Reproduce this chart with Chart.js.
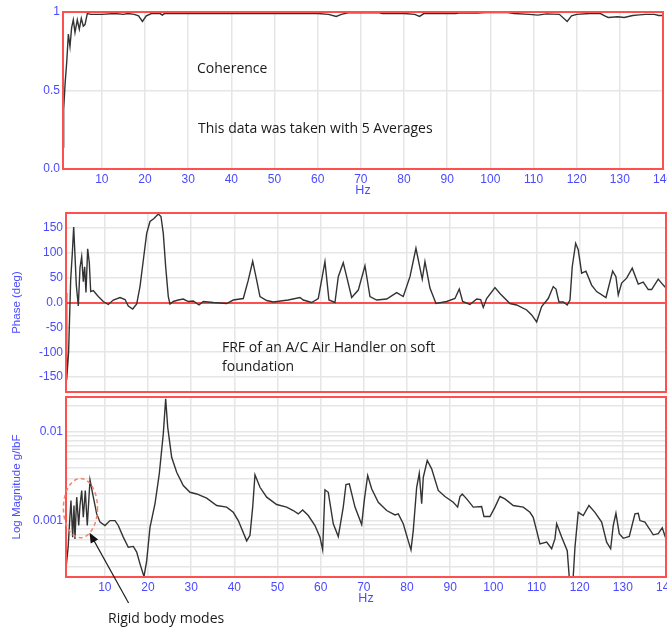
<!DOCTYPE html>
<html>
<head>
<meta charset="utf-8">
<script src="https://cdn.jsdelivr.net/npm/chart.js@4.4.0/dist/chart.umd.min.js"></script>
<style>
  html, body { margin: 0; padding: 0; background: #fff; }
  #wrap { position: relative; width: 667px; height: 627px; overflow: hidden; }
  .panel { position: absolute; left: 0; width: 667px; }
  .note { position: absolute; font-family: 'Open Sans', sans-serif; font-size: 14px; line-height: 19px; color: #1a1a1a; white-space: nowrap; }
</style>
</head>
<body>
<div id="wrap">
  <div class="panel" style="top:0;height:200px"><canvas id="coh"></canvas></div>
  <div class="panel" style="top:200px;height:197px"><canvas id="phase"></canvas></div>
  <div class="panel" style="top:385px;height:242px"><canvas id="mag"></canvas></div>
  <div class="note" style="left:197px;top:58px">Coherence</div>
  <div class="note" style="left:198px;top:118px">This data was taken with 5 Averages</div>
  <div class="note" style="left:222px;top:337px">FRF of an A/C Air Handler on soft<br>foundation</div>
  <div class="note" style="left:108px;top:608px">Rigid body modes</div>
</div>
<script>
// frequency axis (Hz)
const X_TICKS = [10, 20, 30, 40, 50, 60, 70, 80, 90, 100, 110, 120, 130, 140];

// coherence
const COH_TICKS = [0, 0.5, 1];
const COH_TICK_LABELS = ['0.0', '0.5', '1'];
const COH_HZ = [1.0, 1.15, 1.5, 1.86, 2.24, 2.62, 3.0, 3.39, 3.78, 4.31, 4.78, 5.24, 5.7, 6.1, 6.63, 7.5,
  10, 13, 15, 16, 17.5, 18.5, 19.4, 20.3, 21.5, 23.5, 24, 24.5, 40, 50, 60, 62.5, 64.3, 65.5, 67, 70,
  74, 75, 80, 82.5, 83.6, 84.6, 92, 93, 97, 99, 104, 105.5, 109, 111, 113, 116, 117.8, 118.8, 120,
  123, 125.5, 126.5, 127.3, 129.5, 131, 133, 134.5, 136, 138, 139, 140];
const COH_VAL = [0.14, 0.38, 0.55, 0.68, 0.86, 0.78, 0.90, 0.95, 0.87, 0.95, 0.89, 0.96, 0.91, 0.92, 0.99, 0.985,
  0.985, 0.99, 0.985, 0.99, 0.985, 0.975, 0.94, 0.975, 0.99, 0.99, 0.98, 0.99, 0.99, 0.99, 0.99, 0.985, 0.972, 0.985, 0.995, 0.995,
  0.997, 0.99, 0.99, 0.985, 0.972, 0.99, 0.99, 0.995, 0.993, 0.997, 0.997, 0.99, 0.985, 0.98, 0.988, 0.985, 0.94, 0.975, 0.985,
  0.99, 0.99, 0.975, 0.965, 0.97, 0.965, 0.978, 0.982, 0.985, 0.985, 0.978, 0.978];

// phase (deg)
const PHASE_TICKS = [-150, -100, -50, 0, 50, 100, 150];
const PHASE_TICK_LABELS = ['-150', '-100', '-50', '0.0', '50', '100', '150'];
const PHASE_HZ = [1.0, 1.15, 1.6, 2.08, 2.47, 2.78, 3.08, 3.39, 3.85, 4.24, 4.63, 5.01, 5.32, 5.63, 6.02, 6.4, 6.72,
  7.32, 8.48, 9.64, 10.8, 11.96, 13.51, 14.67, 15.43, 16.45, 17.38, 18.14, 18.91, 19.69, 20.46, 21.38, 22.38,
  23.0, 23.54, 24.09, 24.7, 25.09, 25.86, 27.01, 28.17, 29.33, 30.49, 31.81, 32.8, 35.12, 38.22, 39.75,
  42.07, 43.23, 44.25, 45.17, 45.94, 47.49, 49.02, 52.49, 55.2, 55.97, 57.91, 59.44, 60.99, 61.92, 63.31,
  64.08, 65.23, 66.02, 67.18, 68.71, 70.26, 71.42, 72.97, 75.29, 77.6, 79.13, 80.69, 82.07, 83.53, 84.16,
  85.32, 86.71, 89.19, 91.11, 92.11, 92.89, 94.58, 96.14, 97.06, 97.67, 98.45, 100.38, 101.53, 103.85,
  105.4, 107.72, 108.88, 110.03, 111.19, 112.72, 113.88, 114.51, 115.2, 116.2, 117.12, 117.75, 118.28,
  119.07, 119.67, 120.46, 121.45, 122.77, 123.93, 126.09, 127.64, 128.4, 128.94, 129.72, 130.88, 132.18,
  133.57, 134.73, 135.89, 136.67, 138.2, 139.36, 140];
const PHASE_DEG = [19, -156, -100, 45, 100, 152, 95, 35, -7, 70, 92, 42, 72, 20, 108, 80, 22,
  24, 12, 2, -4, 5, 10, 6, -7, -13, -3, 32, 85, 139, 163, 169, 178,
  173, 139, 72, 12, -3, 2, 5, 7, 2, 3, -5, 2, 0, -2, 5,
  8, 45, 83, 45, 12, 4, 1, 5, 10, 5, 0, 8, 82, 5, 0,
  52, 80, 52, 10, 25, 74, 12, 5, 7, 20, 12, 52, 109, 47, 82,
  29, -2, 2, 8, 27, 2, -4, 7, 6, -10, 8, 30, 18, -2,
  -5, -15, -25, -39, -8, 8, 32, 27, 1, 1, -5, 5, 72,
  119, 106, 59, 63, 35, 22, 10, 63, 52, 15, 39, 49, 69,
  37, 41, 26, 26, 47, 35, 29];

// log magnitude (g/lbF)
const MAG_TICKS = [3e-4, 4e-4, 5e-4, 6e-4, 7e-4, 8e-4, 9e-4, 1e-3, 2e-3, 3e-3, 4e-3, 5e-3, 6e-3, 7e-3, 8e-3, 9e-3, 1e-2, 2e-2];
const MAG_TICK_LABELS = ['', '', '', '', '', '', '', '0.001', '', '', '', '', '', '', '', '', '0.01', ''];
const MAG_HZ = [1.0, 1.5, 1.9, 2.15, 2.55, 2.85, 3.08, 3.48, 3.94, 4.24, 4.64, 5.01, 5.47, 5.93, 6.56, 7.18,
  8.11, 8.88, 10.03, 11.19, 12.35, 13.11, 14.27, 15.43, 16.59, 17.38, 18.14, 19.07, 19.69, 20.46, 21.62,
  22.61, 23.54, 24.09, 24.56, 25.48, 26.64, 28.17, 29.72, 31.28, 33.59, 35.91, 38.22, 39.75, 40.91,
  42.86, 43.62, 44.25, 44.78, 45.94, 47.49, 49.8, 52.12, 53.65, 54.81, 55.83, 57.13, 58.68, 59.84,
  60.46, 60.99, 61.76, 62.92, 64.08, 65.23, 65.86, 66.63, 67.95, 69.5, 70.1, 70.89, 71.81, 73.34,
  75.29, 77.21, 77.98, 79.13, 80.29, 80.92, 81.45, 82.24, 82.84, 83.4, 83.77, 84.69, 85.71, 87.24,
  88.79, 90.72, 91.73, 92.27, 92.8, 93.82, 95.35, 97.29, 97.83, 99.22, 100.38, 101.53, 102.69, 104.61,
  106.93, 108.48, 109.24, 110.03, 110.8, 112.35, 113.51, 114.27, 114.67, 115.82, 117.12, 117.75,
  118.37, 118.91, 119.67, 120.83, 122.15, 123.54, 125.09, 126.25, 127.18, 127.78, 128.4, 129.17,
  130.1, 131.49, 132.81, 133.57, 133.97, 135.12, 137.05, 138.2, 139.13, 140];
const MAG_VAL = [2.9e-4, 5.0e-4, 1.09e-3, 1.69e-3, 6.5e-4, 1.48e-3, 6.2e-4, 1.84e-3, 8.8e-4, 1.48e-3, 2.19e-3, 1.09e-3, 2.19e-3, 8.8e-4, 2.89e-3, 2.0e-3,
  1.19e-3, 9.6e-4, 8.8e-4, 1.0e-3, 1.0e-3, 8.8e-4, 6.5e-4, 5.0e-4, 5.1e-4, 4.4e-4, 3.24e-4, 2.32e-4, 3.5e-4, 8.4e-4, 1.55e-3,
  3.38e-3, 9.6e-3, 0.0239, 0.0114, 5.2e-3, 3.52e-3, 2.49e-3, 2.09e-3, 2.0e-3, 1.79e-3, 1.48e-3, 1.42e-3, 1.24e-3, 1.0e-3,
  5.9e-4, 6.8e-4, 1.42e-3, 3.3e-3, 2.38e-3, 1.84e-3, 1.52e-3, 1.42e-3, 1.3e-3, 1.19e-3, 1.32e-3, 1.14e-3, 8.8e-4, 6.5e-4,
  4.66e-4, 2.23e-3, 2.09e-3, 9.2e-4, 6.6e-4, 1.42e-3, 2.56e-3, 2.6e-3, 1.42e-3, 9.0e-4, 1.69e-3, 3.24e-3, 2.29e-3, 1.61e-3,
  1.3e-3, 1.16e-3, 1.19e-3, 9.2e-4, 5.9e-4, 4.66e-4, 7.7e-4, 2.38e-3, 3.43e-3, 1.55e-3, 3.09e-3, 4.78e-3, 3.85e-3, 2.19e-3,
  1.87e-3, 1.61e-3, 1.42e-3, 1.87e-3, 2.0e-3, 1.76e-3, 1.42e-3, 1.44e-3, 1.11e-3, 1.11e-3, 1.42e-3, 1.87e-3, 1.76e-3, 1.48e-3,
  1.42e-3, 1.24e-3, 1.09e-3, 7.7e-4, 5.45e-4, 5.7e-4, 4.8e-4, 6.2e-4, 9.2e-4, 6.5e-4, 4.57e-4, 1.8e-4,
  1.8e-4, 5.0e-4, 1.24e-3, 1.14e-3, 1.48e-3, 1.24e-3, 9.6e-4, 5.7e-4, 4.8e-4, 8.8e-4, 1.21e-3, 7.1e-4,
  6.3e-4, 6.6e-4, 1.19e-3, 1.21e-3, 1.0e-3, 9.6e-4, 6.9e-4, 7.1e-4, 8.3e-4, 6.2e-4];

// "Rigid body modes" callout, in data units
const RIGID_ELLIPSE_HZ = [0.4, 8.3];
const RIGID_ELLIPSE_MAG = [6.4e-4, 3.0e-3];
const RIGID_ARROW_TIP = [6.45, 7.3e-4];
const RIGID_ARROW_TAIL_HZ = 15.5;

const BLUE = '#4a4aff';
const RED = '#ff5050';
const GRID = '#e6e6e6';
const TRACE = '#333333';
const TICK_FONT = { family: "'Liberation Sans',Arial,sans-serif", size: 12 };
const TITLE_FONT = { family: "'Liberation Sans',Arial,sans-serif", size: 11.5 };

Chart.defaults.animation = false;

const boxPlugin = {
  id: 'box',
  afterDraw(chart) {
    const a = chart.chartArea;
    const ctx = chart.ctx;
    ctx.save();
    ctx.strokeStyle = RED;
    ctx.lineWidth = 2;
    ctx.strokeRect(a.left, a.top, a.right - a.left, a.bottom - a.top);
    ctx.restore();
  }
};

function pts(xs, ys) {
  return xs.map((x, i) => ({ x, y: ys[i] }));
}

function xAxis(labelled) {
  return {
    type: 'linear', min: 1, max: 140,
    afterBuildTicks: (s) => { s.ticks = X_TICKS.map((v) => ({ value: v })); },
    afterFit: (s) => { s.height = labelled ? 31 : 5; s.paddingLeft = 0; s.paddingRight = 0; },
    grid: { color: GRID, lineWidth: 1.5, drawTicks: false },
    border: { display: false },
    ticks: { display: labelled, color: BLUE, font: TICK_FONT, padding: 3, maxRotation: 0, autoSkip: false },
    title: { display: labelled, text: 'Hz', color: BLUE, font: { family: TITLE_FONT.family, size: 12.5 }, padding: { top: 0, bottom: 2 } },
  };
}

function yAxis(opts, ticks, labels, width, title) {
  return Object.assign({
    afterBuildTicks: (s) => { s.ticks = ticks.map((v) => ({ value: v })); },
    afterFit: (s) => { s.width = width; s.paddingTop = 0; s.paddingBottom = 0; },
    grid: {
      drawTicks: false,
      color: (c) => (c.tick && c.tick.value === 0 ? RED : GRID),
      lineWidth: (c) => (c.tick && c.tick.value === 0 ? 2 : 1.5),
    },
    border: { display: false },
    ticks: { color: BLUE, font: TICK_FONT, padding: 3, autoSkip: false, callback: (v, i) => labels[i] },
    title: { display: !!title, text: title || '', color: BLUE, font: TITLE_FONT, padding: { top: 10, bottom: 0 } },
  }, opts);
}

function lineChart(id, data, x, y, padding, plugins) {
  return new Chart(document.getElementById(id), {
    type: 'line',
    data: { datasets: [{ data, borderColor: TRACE, borderWidth: 1.4, pointRadius: 0, tension: 0, fill: false }] },
    options: {
      responsive: true,
      maintainAspectRatio: false,
      layout: { padding },
      plugins: { legend: { display: false }, tooltip: { enabled: false } },
      scales: { x, y },
    },
    plugins: [boxPlugin].concat(plugins || []),
  });
}

lineChart('coh', pts(COH_HZ, COH_VAL), xAxis(true),
  yAxis({ type: 'linear', min: 0, max: 1 }, COH_TICKS, COH_TICK_LABELS, 63, null),
  { top: 12, right: 4, bottom: 0, left: 0 });

lineChart('phase', pts(PHASE_HZ, PHASE_DEG), xAxis(false),
  yAxis({ type: 'linear', min: -180, max: 180 }, PHASE_TICKS, PHASE_TICK_LABELS, 66, 'Phase (deg)'),
  { top: 13, right: 1, bottom: 0, left: 0 });

const calloutPlugin = {
  id: 'callout',
  afterDraw(chart) {
    const xs = chart.scales.x, ys = chart.scales.y, ctx = chart.ctx;
    const x0 = xs.getPixelForValue(RIGID_ELLIPSE_HZ[0]), x1 = xs.getPixelForValue(RIGID_ELLIPSE_HZ[1]);
    const y0 = ys.getPixelForValue(RIGID_ELLIPSE_MAG[0]), y1 = ys.getPixelForValue(RIGID_ELLIPSE_MAG[1]);
    ctx.save();
    ctx.strokeStyle = '#f2876a';
    ctx.lineWidth = 1.5;
    ctx.setLineDash([4, 3]);
    ctx.beginPath();
    ctx.ellipse((x0 + x1) / 2, (y0 + y1) / 2, Math.abs(x1 - x0) / 2, Math.abs(y1 - y0) / 2, 0, 0, Math.PI * 2);
    ctx.stroke();
    ctx.setLineDash([]);
    const tx = xs.getPixelForValue(RIGID_ARROW_TIP[0]), ty = ys.getPixelForValue(RIGID_ARROW_TIP[1]);
    const sx = xs.getPixelForValue(RIGID_ARROW_TAIL_HZ), sy = chart.chartArea.bottom + 26;
    const ang = Math.atan2(ty - sy, tx - sx);
    ctx.strokeStyle = '#222';
    ctx.lineWidth = 1.2;
    ctx.beginPath();
    ctx.moveTo(sx, sy);
    ctx.lineTo(tx - Math.cos(ang) * 6, ty - Math.sin(ang) * 6);
    ctx.stroke();
    ctx.fillStyle = '#111';
    ctx.beginPath();
    ctx.moveTo(tx, ty);
    ctx.lineTo(tx - Math.cos(ang - 0.4) * 11, ty - Math.sin(ang - 0.4) * 11);
    ctx.lineTo(tx - Math.cos(ang + 0.4) * 11, ty - Math.sin(ang + 0.4) * 11);
    ctx.closePath();
    ctx.fill();
    ctx.restore();
  }
};

lineChart('mag', pts(MAG_HZ, MAG_VAL), xAxis(true),
  yAxis({ type: 'logarithmic', min: 0.00023, max: 0.025 }, MAG_TICKS, MAG_TICK_LABELS, 66, 'Log Magnitude g/lbF'),
  { top: 12, right: 1, bottom: 19, left: 0 }, [calloutPlugin]);
</script>
</body>
</html>
